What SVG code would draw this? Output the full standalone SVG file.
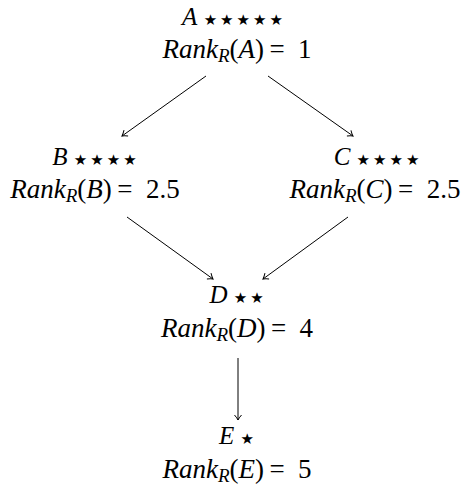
<svg xmlns="http://www.w3.org/2000/svg" width="465" height="491" viewBox="0 0 465 491">
  <style>
    .t { fill: #000; text-anchor: middle; font-size: 25px; }
    .r { font-size: 27px; }
    .it { font-style: italic; }
    .sub { font-size: 19px; font-style: italic; }
    .st { font-size: 15px; letter-spacing: 3px; }
    .edge { stroke: #000; stroke-width: 1; fill: none; marker-end: url(#arr); }
  </style>
  <defs>
    <marker id="arr" viewBox="-6 -5 8 10" markerWidth="8" markerHeight="10" refX="0" refY="0" orient="auto" markerUnits="userSpaceOnUse">
      <path d="M -5 -3.5 Q -1.8 -0.8 0 0 Q -1.8 0.8 -5 3.5" stroke="#000" stroke-width="1" fill="none"/>
    </marker>
  </defs>

  <g id="node-A" font-family="Liberation Serif, Times New Roman, serif">
    <text class="t" x="234" y="25"><tspan class="it">A</tspan> <tspan class="st" font-family="DejaVu Sans, sans-serif">★★★★★</tspan></text>
    <text class="t r" x="237" y="58"><tspan class="it">Rank</tspan><tspan class="sub" dy="4">R</tspan><tspan dy="-4">(</tspan><tspan class="it">A</tspan>)&#8201;=&#8194;1</text>
  </g>

  <g id="node-B" font-family="Liberation Serif, Times New Roman, serif">
    <text class="t" x="96" y="165"><tspan class="it">B</tspan> <tspan class="st" font-family="DejaVu Sans, sans-serif">★★★★</tspan></text>
    <text class="t r" x="95" y="198"><tspan class="it">Rank</tspan><tspan class="sub" dy="4">R</tspan><tspan dy="-4">(</tspan><tspan class="it">B</tspan>)&#8201;=&#8194;2.5</text>
  </g>

  <g id="node-C" font-family="Liberation Serif, Times New Roman, serif">
    <text class="t" x="378" y="165"><tspan class="it">C</tspan> <tspan class="st" font-family="DejaVu Sans, sans-serif">★★★★</tspan></text>
    <text class="t r" x="375" y="198"><tspan class="it">Rank</tspan><tspan class="sub" dy="4">R</tspan><tspan dy="-4">(</tspan><tspan class="it">C</tspan>)&#8201;=&#8194;2.5</text>
  </g>

  <g id="node-D" font-family="Liberation Serif, Times New Roman, serif">
    <text class="t" x="238" y="303"><tspan class="it">D</tspan> <tspan class="st" font-family="DejaVu Sans, sans-serif">★★</tspan></text>
    <text class="t r" x="237" y="337"><tspan class="it">Rank</tspan><tspan class="sub" dy="4">R</tspan><tspan dy="-4">(</tspan><tspan class="it">D</tspan>)&#8201;=&#8194;4</text>
  </g>

  <g id="node-E" font-family="Liberation Serif, Times New Roman, serif">
    <text class="t" x="238" y="444"><tspan class="it">E</tspan> <tspan class="st" font-family="DejaVu Sans, sans-serif">★</tspan></text>
    <text class="t r" x="237" y="478"><tspan class="it">Rank</tspan><tspan class="sub" dy="4">R</tspan><tspan dy="-4">(</tspan><tspan class="it">E</tspan>)&#8201;=&#8194;5</text>
  </g>

  <g id="connectors">
    <line class="edge" x1="206" y1="76" x2="122" y2="136"/>
    <line class="edge" x1="268" y1="76" x2="353" y2="136"/>
    <line class="edge" x1="127" y1="217" x2="213" y2="279"/>
    <line class="edge" x1="348" y1="217" x2="263" y2="279"/>
    <line class="edge" x1="238" y1="358" x2="238" y2="420"/>
  </g>
</svg>
